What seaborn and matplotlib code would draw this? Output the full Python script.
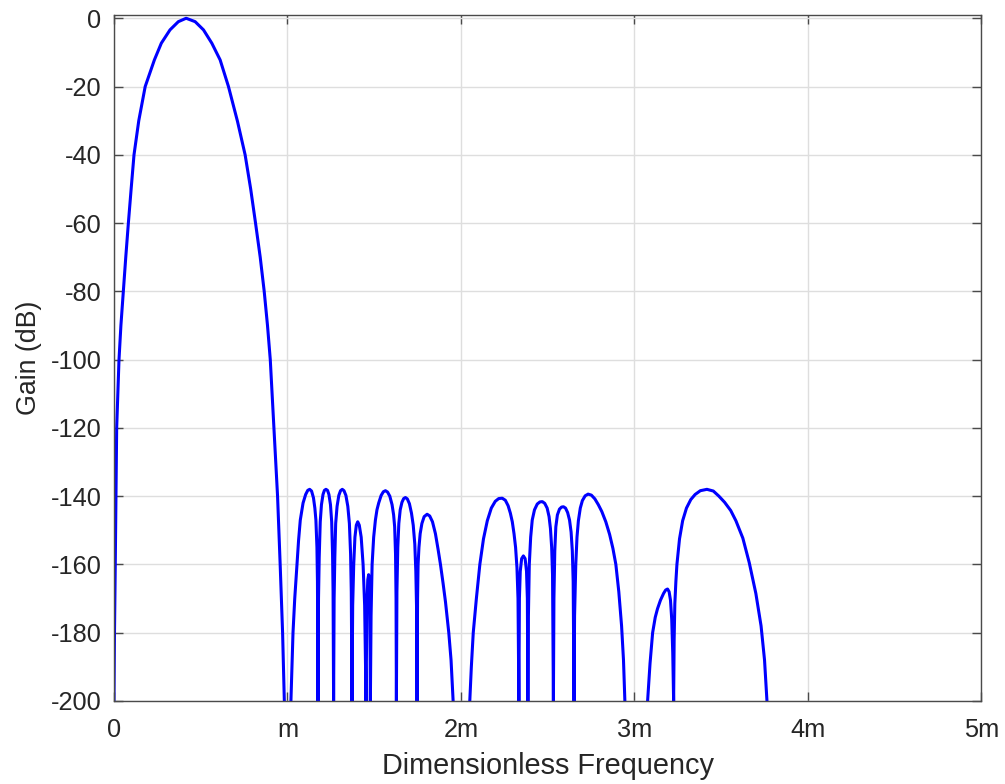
import numpy as np
import pandas as pd
import matplotlib
matplotlib.use("Agg")
import matplotlib.pyplot as plt
import seaborn as sns

# ---- data (frequency in units of m, gain in dB) ----
main_f = [0.000, 0.003, 0.0075, 0.0115, 0.0156, 0.029, 0.040, 0.054, 0.068, 0.083, 0.099,
          0.1155, 0.143, 0.180, 0.233, 0.273, 0.323, 0.371, 0.416, 0.468, 0.516, 0.564,
          0.612, 0.660, 0.712, 0.756, 0.788, 0.816, 0.843, 0.866, 0.885, 0.901, 0.922,
          0.943, 0.958, 0.972, 0.982]
main_db = [-200, -180, -160, -140, -120, -100, -90, -80, -70, -60, -50,
           -40, -30, -20, -12.2, -7.3, -3.4, -1.0, 0.0, -1.0, -3.4, -7.3,
           -12.2, -20, -30.2, -40, -50, -60, -70, -80, -90, -100, -120,
           -140, -160, -180, -200]

band1_f = [1.020, 1.026, 1.032, 1.042, 1.055, 1.064, 1.074, 1.090, 1.105, 1.117, 1.128,
           1.139, 1.150, 1.158, 1.164, 1.170, 1.173, 1.176,
           1.179, 1.183, 1.189, 1.196, 1.205, 1.213, 1.222, 1.231, 1.239, 1.248, 1.255,
           1.260, 1.263, 1.266,
           1.269, 1.273, 1.278, 1.286, 1.296, 1.306, 1.316, 1.326, 1.337, 1.348, 1.357,
           1.364, 1.368, 1.372,
           1.376, 1.382, 1.389, 1.397, 1.405, 1.414, 1.425, 1.436, 1.445, 1.453,
           1.458, 1.463, 1.468, 1.472, 1.475, 1.478,
           1.482, 1.488, 1.497, 1.507, 1.516, 1.526, 1.540, 1.553, 1.565, 1.577, 1.590,
           1.603, 1.612, 1.618, 1.623, 1.626, 1.628,
           1.631, 1.636, 1.642, 1.650, 1.660, 1.670, 1.680, 1.691, 1.703, 1.715, 1.725,
           1.734, 1.740, 1.744, 1.747,
           1.750, 1.753, 1.758, 1.765, 1.775, 1.788, 1.805, 1.820, 1.836, 1.853, 1.868,
           1.882, 1.897, 1.911, 1.930, 1.943, 1.955]
band1_db = [-200, -190, -180, -170, -160, -153, -147, -142, -139.5, -138.3, -138,
            -138.5, -140.5, -143.5, -147, -155, -165, -200,
            -170, -158, -147.5, -142.5, -139.5, -138.3, -138, -138.3, -139.5, -142.5, -147.5,
            -157, -168, -200,
            -170, -158, -148, -143, -139.8, -138.4, -138, -138.4, -139.8, -143, -148,
            -157, -168, -200,
            -172, -160, -152, -148.5, -147.5, -148.5, -152, -160, -172, -200,
            -172, -164.5, -163, -164.5, -172, -200,
            -175, -160, -152, -147, -144, -142, -139.8, -138.7, -138.4, -138.8, -140,
            -142.5, -145.5, -149, -157, -170, -200,
            -168, -155, -148, -144, -141.8, -140.7, -140.4, -140.8, -142.2, -145, -148.5,
            -154, -162, -172, -200,
            -170, -160, -155, -151, -148, -146, -145.3, -145.8, -147.5, -151, -155.5,
            -160, -165.5, -171, -180, -188, -200]

band2_f = [2.051, 2.060, 2.071, 2.089, 2.109, 2.130, 2.152, 2.175, 2.198, 2.218, 2.238,
           2.256, 2.272, 2.285, 2.296, 2.306, 2.315, 2.323, 2.329, 2.334,
           2.337, 2.342, 2.350, 2.360, 2.370, 2.378, 2.383, 2.386,
           2.389, 2.394, 2.402, 2.411, 2.424, 2.440, 2.455, 2.469, 2.483, 2.497, 2.508,
           2.516, 2.523, 2.528, 2.533,
           2.536, 2.541, 2.547, 2.556, 2.568, 2.580, 2.591, 2.603, 2.615, 2.626, 2.635,
           2.642, 2.647, 2.652,
           2.655, 2.662, 2.669, 2.677, 2.688, 2.700, 2.716, 2.733, 2.752, 2.772, 2.792,
           2.812, 2.835, 2.857, 2.876, 2.893, 2.910, 2.926, 2.937, 2.945]
band2_db = [-200, -190, -180, -170, -160, -152.5, -147.2, -143.5, -141.5, -140.7, -140.6,
            -141.2, -142.8, -145, -147.5, -151, -155, -161, -170, -200,
            -170, -162, -158.3, -157.5, -158.3, -162, -170, -200,
            -175, -160, -152, -147, -144, -142.3, -141.7, -141.6, -142.1, -143.5, -146,
            -149.5, -155, -163, -200,
            -170, -156, -149, -145.5, -143.8, -143.2, -143.1, -143.5, -144.8, -147, -150.5,
            -156, -165, -200,
            -175, -160, -152, -147.2, -143.5, -141.3, -139.9, -139.4, -139.7, -140.8, -142.5,
            -144.5, -147.5, -151.2, -155.3, -160, -168, -178, -188, -200]

band3_f = [3.076, 3.090, 3.105, 3.120, 3.133, 3.150, 3.168, 3.180, 3.191, 3.200, 3.208,
           3.215, 3.221, 3.226,
           3.229, 3.233, 3.239, 3.245, 3.260, 3.278, 3.300, 3.325, 3.350, 3.380, 3.418,
           3.455, 3.487, 3.520, 3.555, 3.585, 3.625, 3.662, 3.700, 3.730, 3.750, 3.764]
band3_db = [-200, -189, -180, -175.5, -173, -170.5, -168.5, -167.5, -167.2, -168, -170.5,
            -176, -186, -200,
            -182, -171.5, -165, -160, -152.5, -147.2, -143.5, -141, -139.5, -138.4, -138,
            -138.5, -140, -141.8, -144.2, -147.2, -152.3, -159.5, -168.5, -178, -188, -200]

x_ticks = [0, 1, 2, 3, 4, 5]
x_tick_labels = ["0", "m", "2m", "3m", "4m", "5m"]
y_ticks = [0, -20, -40, -60, -80, -100, -120, -140, -160, -180, -200]

segments = [(main_f, main_db), (band1_f, band1_db), (band2_f, band2_db), (band3_f, band3_db)]
df = pd.concat(
    [pd.DataFrame({"f": f, "db": d, "seg": i}) for i, (f, d) in enumerate(segments)],
    ignore_index=True,
)

sns.set_style("white")
plt.rcParams["font.family"] = ["Liberation Sans", "DejaVu Sans"]

fig = plt.figure(figsize=(10.05, 7.84), dpi=100)
ax = fig.add_axes([0.1134, 0.1059, 0.9765 - 0.1134, 0.9815 - 0.1059])

sns.lineplot(data=df, x="f", y="db", units="seg", estimator=None, sort=False,
             color="#0000ff", linewidth=2.2, ax=ax, legend=False)

ax.set_xlim(0, 5)
ax.set_ylim(-200, 1.1)
ax.set_xticks(x_ticks)
ax.set_xticklabels(x_tick_labels)
ax.set_yticks(y_ticks)
ax.set_yticklabels([str(v) for v in y_ticks])

ax.grid(True, color="#dedede", linewidth=1.0)
ax.set_axisbelow(True)
for s in ax.spines.values():
    s.set_visible(True)
    s.set_color("#4a4a4a")
    s.set_linewidth(1.0)

ax.tick_params(axis="both", direction="in", length=6.5, width=1.0, color="#4a4a4a",
               labelsize=18.3, labelcolor="#262626", top=True, right=True,
               bottom=True, left=True)
ax.tick_params(axis="x", pad=12.5)
ax.tick_params(axis="y", pad=9)

ax.set_xlabel("Dimensionless Frequency", fontsize=20.8, color="#262626", labelpad=7)
ax.set_ylabel("Gain (dB)", fontsize=19.3, color="#262626", labelpad=6)

fig.savefig("out.png", dpi=100, facecolor="white")
